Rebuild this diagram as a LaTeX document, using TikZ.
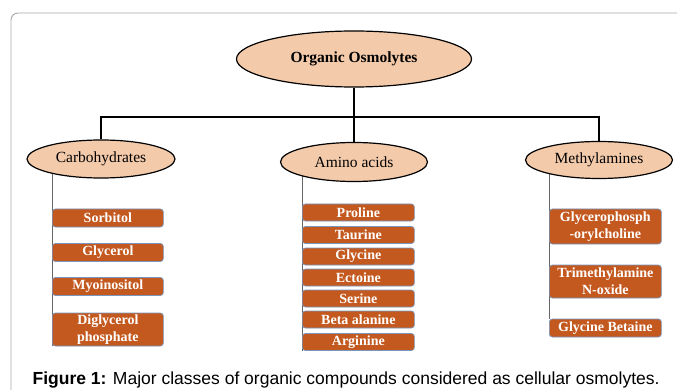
\documentclass[tikz,border=0pt]{standalone}
\usepackage{fontspec}
\setmainfont{Liberation Serif}
\newfontfamily\capfont{Liberation Sans}
\usepackage{tikz}
\usetikzlibrary{shapes.geometric}
\usetikzlibrary{backgrounds}
\definecolor{peach}{RGB}{243,202,170}
\definecolor{rust}{RGB}{196,89,31}
\definecolor{steel}{RGB}{120,150,190}

\begin{document}
\begin{tikzpicture}[x=1pt,y=-1pt,
  line width=1.2pt,
  class/.style={draw,ellipse,fill=peach,inner sep=0pt,font=\fontsize{15.5}{17}\selectfont},
  item/.style={draw=steel,line width=0.7pt,fill=rust,rounded corners=3pt,text=white,
    minimum width=111pt,minimum height=18pt,inner sep=0pt,align=center,anchor=west,
    font=\bfseries\fontsize{14}{17}\selectfont},
  stem/.style={draw=black!60,line width=0.8pt}]
  \useasboundingbox (0,0) rectangle (677,390);
  \draw[black!35,line width=0.9pt,rounded corners=7pt] (11,400) -- (11,13) -- (690,13);
  % classes
  \node[class,minimum width=235pt,minimum height=56pt,font=\bfseries\fontsize{15.5}{17}\selectfont] (root) at (354,59) {Organic Osmolytes};
  \node[class,minimum width=148pt,minimum height=38pt] (carbo) at (101,159) {Carbohydrates};
  \node[class,minimum width=147pt,minimum height=39pt] (amino) at (354,162) {Amino acids};
  \node[class,minimum width=147pt,minimum height=37pt] (methyl) at (599,160) {Methylamines};
  \coordinate (bar) at (354,117);
  \draw (root) -- (amino);
  \draw (carbo) |- (bar) -| (methyl);
  % carbohydrates
  \foreach \name/\txt/\y in {sorb/Sorbitol/218, glyc/Glycerol/252.5, myo/Myoinositol/286.5}
    \node[item] (\name) at (52,\y) {\txt};
  \node[item,minimum height=33pt] (dig) at (52,329.5) {Diglycerol\\phosphate};
  % amino acids
  \foreach \name/\txt/\y in {pro/Proline/212.5, tau/Taurine/235, gly/Glycine/256.5, ect/Ectoine/277.5,
      ser/Serine/298.5, beta/Beta alanine/319.5, arg/Arginine/342}
    \node[item,minimum width=112pt,minimum height=17pt] (\name) at (302,\y) {\txt};
  % methylamines
  \node[item,minimum width=112pt,minimum height=35pt] (gpc) at (549,226.5) {Glycerophosph\\-orylcholine};
  \node[item,minimum width=112pt,minimum height=33pt] (tmao) at (549,281.5) {Trimethylamine\\N-oxide};
  \node[item,minimum width=112pt,minimum height=18pt] (gb) at (549,328) {Glycine Betaine};
  \begin{scope}[on background layer]
    \draw[stem] (carbo.center -| dig.west) -- (dig.south west);
    \draw[stem] (amino.center -| arg.west) -- (arg.south west);
    \draw[stem] (methyl.center -| gb.west) -- (gb.north west);
  \end{scope}
  \node[anchor=base west,inner sep=0pt,font=\capfont\fontsize{17.5}{20}\selectfont] (caption) at (32,384)
    {\textbf{Figure 1:} Major classes of organic compounds considered as cellular osmolytes.};
\end{tikzpicture}
\end{document}
